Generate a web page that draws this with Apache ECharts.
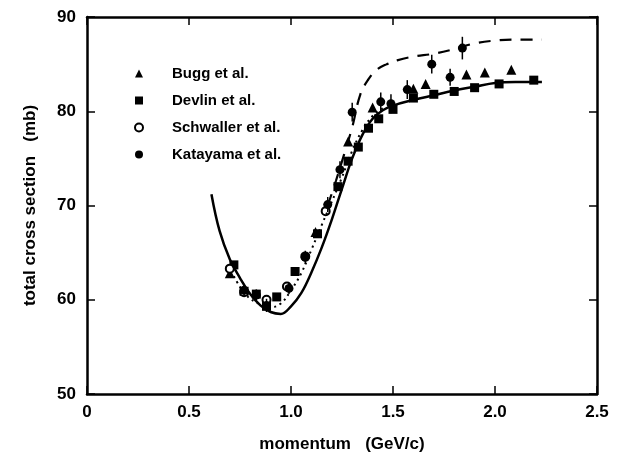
<!DOCTYPE html>
<html>
<head>
<meta charset="utf-8">
<script src="https://cdn.jsdelivr.net/npm/echarts@6/dist/echarts.min.js"></script>
<style>
  html, body { margin: 0; padding: 0; background: #fff; }
  #chart { width: 623px; height: 458px; }
</style>
</head>
<body>
<div id="chart"></div>
<script>
// measured points (momentum GeV/c, total cross section mb)
var buggP = [0.70, 1.12, 1.28, 1.40, 1.60, 1.66, 1.86, 1.95, 2.08]
var buggXs = [62.8, 67.2, 76.8, 80.4, 82.4, 82.9, 83.9, 84.1, 84.4]

var devlinP = [0.72, 0.77, 0.83, 0.88, 0.93, 1.02, 1.13, 1.23, 1.28, 1.33, 1.38, 1.43, 1.50, 1.60, 1.70, 1.80, 1.90, 2.02, 2.19]
var devlinXs = [63.7, 60.9, 60.6, 59.3, 60.3, 63.0, 67.0, 72.0, 74.7, 76.2, 78.2, 79.2, 80.2, 81.4, 81.8, 82.1, 82.5, 82.9, 83.3]

var schwallerP = [0.70, 0.77, 0.88, 0.98, 1.07, 1.17]
var schwallerXs = [63.3, 60.8, 60.0, 61.4, 64.6, 69.4]

var katayamaP = [0.77, 0.83, 0.88, 0.99, 1.07, 1.18, 1.24, 1.30, 1.44, 1.49, 1.57, 1.69, 1.78, 1.84]
var katayamaXs = [61.0, 60.5, 59.4, 61.2, 64.5, 70.1, 73.8, 79.9, 81.0, 80.8, 82.3, 85.0, 83.6, 86.7]
var katayamaErr = [0.6, 0.6, 0.7, 0.6, 0.7, 0.8, 0.9, 1.0, 1.0, 1.0, 1.0, 1.0, 0.9, 1.2]

// calculated curves
var solidP = [0.61, 0.65, 0.70, 0.75, 0.80, 0.85, 0.90, 0.95, 1.00, 1.05, 1.10, 1.15, 1.20, 1.25, 1.30, 1.35, 1.40, 1.45, 1.50, 1.60, 1.70, 1.80, 1.90, 2.00, 2.10, 2.23]
var solidXs = [71.2, 67.3, 64.3, 62.3, 60.6, 59.4, 58.7, 58.5, 59.3, 60.7, 62.9, 65.5, 68.5, 71.8, 75.0, 77.5, 79.2, 80.1, 80.6, 81.2, 81.7, 82.2, 82.6, 83.0, 83.1, 83.1]

var dotP = [0.72, 0.78, 0.85, 0.90, 0.95, 1.00, 1.05, 1.10, 1.15, 1.20, 1.25, 1.30, 1.35, 1.40, 1.45]
var dotXs = [62.5, 60.5, 59.5, 59.2, 59.6, 61.0, 62.8, 65.3, 67.9, 70.4, 73.0, 75.8, 78.0, 79.5, 80.3]

var dashP = [1.18, 1.22, 1.26, 1.30, 1.34, 1.38, 1.42, 1.47, 1.52, 1.60, 1.70, 1.80, 1.90, 2.00, 2.10, 2.23]
var dashXs = [70.0, 72.6, 75.4, 78.3, 81.8, 83.4, 84.4, 85.0, 85.4, 85.8, 86.1, 86.6, 87.2, 87.5, 87.6, 87.6]

function pairs(xs, ys) {
  return xs.map(function (x, i) { return [x, ys[i]] })
}

var font = 'Liberation Sans, Arial, Helvetica, sans-serif'

var chart = echarts.init(document.getElementById('chart'))

function frameAxis(extra) {
  return Object.assign({
    type: 'value',
    axisLine: { show: true, onZero: false, lineStyle: { color: '#000', width: 2.5 } },
    axisTick: { show: true, inside: true, length: 8, lineStyle: { color: '#000', width: 1.5 } },
    splitLine: { show: false }
  }, extra)
}

chart.setOption({
  animation: false,
  backgroundColor: '#fff',
  grid: { left: 87, right: 26, top: 17, bottom: 61 },
  legend: {
    orient: 'vertical',
    left: 129,
    top: 61,
    itemWidth: 8,
    itemHeight: 8,
    itemGap: 12,
    textStyle: { fontFamily: font, fontSize: 15, fontWeight: 'bold', color: '#000', padding: [0, 0, 0, 24] },
    data: ['Bugg et al.', 'Devlin et al.', 'Schwaller et al.', 'Katayama et al.']
  },
  xAxis: [
    frameAxis({
      min: 0, max: 2.5, interval: 0.5,
      name: 'momentum   (GeV/c)',
      nameLocation: 'middle',
      nameGap: 42,
      nameTextStyle: { fontFamily: font, fontSize: 17, fontWeight: 'bold', color: '#000' },
      axisLabel: {
        fontFamily: font, fontSize: 17, fontWeight: 'bold', color: '#000', margin: 10,
        formatter: function (v) { return v === 0 ? '0' : v.toFixed(1) }
      }
    }),
    frameAxis({ position: 'top', min: 0, max: 2.5, interval: 0.5, axisLabel: { show: false } })
  ],
  yAxis: [
    frameAxis({
      min: 50, max: 90, interval: 10,
      name: 'total cross section   (mb)',
      nameLocation: 'middle',
      nameGap: 48,
      nameTextStyle: { fontFamily: font, fontSize: 17, fontWeight: 'bold', color: '#000' },
      axisLabel: { fontFamily: font, fontSize: 17, fontWeight: 'bold', color: '#000', margin: 11 }
    }),
    frameAxis({ position: 'right', min: 50, max: 90, interval: 10, axisLabel: { show: false } })
  ],
  series: [
    {
      type: 'line', data: pairs(solidP, solidXs), smooth: 0.4, symbol: 'none',
      lineStyle: { color: '#000', width: 2.5 }, silent: true
    },
    {
      type: 'line', data: pairs(dotP, dotXs), smooth: 0.4, symbol: 'none',
      lineStyle: { color: '#000', width: 2, type: [2, 4] }, silent: true
    },
    {
      type: 'line', data: pairs(dashP, dashXs), smooth: 0.4, symbol: 'none',
      lineStyle: { color: '#000', width: 2.2, type: [12, 9] }, silent: true
    },
    {
      type: 'custom',
      renderItem: function (params, api) {
        var x = api.value(0), y = api.value(1), e = api.value(2)
        var top = api.coord([x, y + e])
        var bot = api.coord([x, y - e])
        return {
          type: 'line',
          shape: { x1: top[0], y1: top[1], x2: bot[0], y2: bot[1] },
          style: { stroke: '#000', lineWidth: 1.5 }
        }
      },
      data: katayamaP.map(function (p, i) { return [p, katayamaXs[i], katayamaErr[i]] }),
      z: 3
    },
    {
      name: 'Bugg et al.', type: 'scatter', symbol: 'triangle', symbolSize: 10,
      data: pairs(buggP, buggXs), itemStyle: { color: '#000', opacity: 1 }
    },
    {
      name: 'Devlin et al.', type: 'scatter', symbol: 'rect', symbolSize: 9,
      data: pairs(devlinP, devlinXs), itemStyle: { color: '#000', opacity: 1 }
    },
    {
      name: 'Schwaller et al.', type: 'scatter', symbol: 'circle', symbolSize: 8,
      data: pairs(schwallerP, schwallerXs),
      itemStyle: { color: '#fff', borderColor: '#000', borderWidth: 2, opacity: 1 }
    },
    {
      name: 'Katayama et al.', type: 'scatter', symbol: 'circle', symbolSize: 9,
      data: pairs(katayamaP, katayamaXs), itemStyle: { color: '#000', opacity: 1 }
    }
  ]
})
</script>
</body>
</html>
